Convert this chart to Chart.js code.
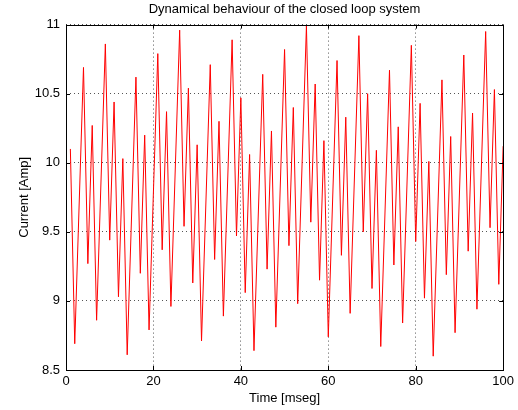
<!DOCTYPE html>
<html>
<head>
<meta charset="utf-8">
<script src="https://cdn.jsdelivr.net/npm/chart.js@4/dist/chart.umd.min.js"></script>
<style>
  html, body { margin: 0; padding: 0; background: #fff; }
  #wrap { width: 518px; height: 410px; }
</style>
</head>
<body>
<div id="wrap"><canvas id="currentChart" width="518" height="410"></canvas></div>
<script>
// valores
const timeMs = [1, 2, 4, 5, 6, 7, 9, 10, 11, 12, 13, 14, 16, 17, 18, 19, 21, 22, 23, 24,
  26, 27, 28, 29, 30, 31, 33, 34, 35, 36, 38, 39, 40, 41, 42, 43, 45, 46, 47, 48,
  50, 51, 52, 53, 55, 56, 57, 58, 59, 60, 62, 63, 64, 65, 67, 68, 69, 70, 71, 72,
  74, 75, 76, 77, 79, 80, 81, 82, 83, 84, 86, 87, 88, 89, 91, 92, 93, 94, 96, 97,
  98, 99, 100];
const current = [10.10, 8.69, 10.69, 9.27, 10.27, 8.86, 10.86, 9.44, 10.44, 9.03, 10.03, 8.61,
  10.62, 9.20, 10.20, 8.79, 10.79, 9.37, 10.37, 8.96, 10.96, 9.54, 10.54, 9.13, 10.13, 8.71,
  10.71, 9.30, 10.30, 8.89, 10.89, 9.47, 10.47, 9.06, 10.06, 8.64, 10.64, 9.23, 10.23, 8.81,
  10.82, 9.40, 10.40, 8.98, 10.99, 9.57, 10.57, 9.15, 10.16, 8.74, 10.74, 9.33, 10.33, 8.91,
  10.92, 9.50, 10.50, 9.09, 10.09, 8.67, 10.67, 9.26, 10.26, 8.84, 10.85, 9.43, 10.43, 9.02,
  10.01, 8.60, 10.60, 9.19, 10.19, 8.77, 10.78, 9.36, 10.36, 8.94, 10.95, 9.53, 10.53, 9.12,
  10.12];
const xTicks = [0, 20, 40, 60, 80, 100];
const yTicks = [8.5, 9, 9.5, 10, 10.5, 11];

const fontFamily = '"Liberation Sans", Arial, Helvetica, sans-serif';

// caixa preta e marcas de escala para dentro (estilo matlab)
const boxPlugin = {
  id: 'boxPlugin',
  afterDraw(chart) {
    const { ctx, chartArea: a, scales } = chart;
    ctx.save();
    ctx.strokeStyle = '#000';
    ctx.lineWidth = 1;
    ctx.beginPath();
    xTicks.forEach(v => {
      const px = Math.round(scales.x.getPixelForValue(v)) + 0.5;
      ctx.moveTo(px, a.bottom); ctx.lineTo(px, a.bottom - 4);
      ctx.moveTo(px, a.top); ctx.lineTo(px, a.top + 4);
    });
    yTicks.forEach(v => {
      const py = Math.round(scales.y.getPixelForValue(v)) + 0.5;
      ctx.moveTo(a.left, py); ctx.lineTo(a.left + 4, py);
      ctx.moveTo(a.right, py); ctx.lineTo(a.right - 4, py);
    });
    ctx.stroke();
    ctx.strokeRect(Math.round(a.left) + 0.5, Math.round(a.top) + 0.5,
      Math.round(a.right - a.left), Math.round(a.bottom - a.top));
    ctx.restore();
  }
};

new Chart(document.getElementById('currentChart'), {
  type: 'line',
  data: {
    datasets: [{
      data: timeMs.map((t, i) => ({ x: t, y: current[i] })),
      borderColor: '#ff0000',
      borderWidth: 1,
      pointRadius: 0,
      tension: 0,
      fill: false
    }]
  },
  options: {
    responsive: false,
    animation: false,
    layout: { padding: { left: 0, right: 13, top: 0, bottom: 0 } },
    plugins: {
      legend: { display: false },
      tooltip: { enabled: false },
      title: {
        display: true,
        text: 'Dynamical behaviour of the closed loop system',
        color: '#000',
        fullSize: false,
        font: { family: fontFamily, size: 13, weight: 'normal' },
        padding: { top: 2, bottom: 7 }
      }
    },
    scales: {
      x: {
        type: 'linear',
        min: 0,
        max: 100,
        afterBuildTicks: axis => { axis.ticks = xTicks.map(v => ({ value: v })); },
        afterFit: axis => { axis.height = 40; },
        ticks: { color: '#000', padding: 4, font: { family: fontFamily, size: 13 } },
        grid: { color: '#555', drawTicks: false, lineWidth: 1 },
        border: { display: false, dash: [1, 3] },
        title: {
          display: true,
          text: 'Time [mseg]',
          color: '#000',
          font: { family: fontFamily, size: 13 },
          padding: { top: 0, bottom: 4 }
        }
      },
      y: {
        min: 8.5,
        max: 11,
        afterBuildTicks: axis => { axis.ticks = yTicks.map(v => ({ value: v })); },
        afterFit: axis => { axis.width = 66; },
        ticks: {
          color: '#000',
          padding: 6,
          font: { family: fontFamily, size: 13 },
          callback: v => `${v}`
        },
        grid: { color: '#555', drawTicks: false, lineWidth: 1 },
        border: { display: false, dash: [1, 3] },
        title: {
          display: true,
          text: 'Current [Amp]',
          color: '#000',
          font: { family: fontFamily, size: 13 },
          padding: { top: 17, bottom: 0 }
        }
      }
    }
  },
  plugins: [boxPlugin]
});
</script>
</body>
</html>
